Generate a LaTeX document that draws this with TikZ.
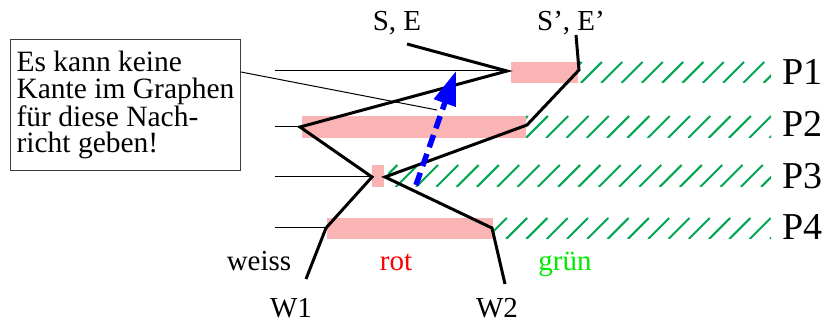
\documentclass[tikz,border=0pt]{standalone}
\usepackage{fontspec}
\setmainfont{Liberation Serif}
\usetikzlibrary{arrows.meta}
\definecolor{pinkbar}{RGB}{250,180,180}
\definecolor{hatchgreen}{RGB}{0,166,81}
\definecolor{labelgreen}{RGB}{0,235,0}
\definecolor{boxgray}{RGB}{60,60,60}
\begin{document}
\begin{tikzpicture}[x=1pt,y=-1pt,
  lbl/.style={anchor=base,inner sep=0pt,font=\fontsize{29}{30}\selectfont},
  plbl/.style={anchor=base west,inner sep=0pt,font=\fontsize{38}{40}\selectfont},
  trajline/.style={line width=3pt},
  thinline/.style={line width=1pt},
  hatchline/.style={hatchgreen,line width=2pt},
  bar/.style={fill=pinkbar,draw=none},
  msg/.style={blue,line width=5.5pt,dash pattern=on 13pt off 7pt,-{Triangle[length=34pt,width=22pt]}},
  callout/.style={draw=boxgray,line width=1pt,anchor=north west,minimum width=230pt,minimum height=131pt,inner sep=0pt,align=left,font=\fontsize{29.5}{26.3}\selectfont}
]
\useasboundingbox (0,0) rectangle (825,323);

% pink bars
\fill[bar] (511,62) rectangle (578,83);
\fill[bar] (302,116) rectangle (526,138);
\fill[bar] (372,165) rectangle (384,187);
\fill[bar] (327,218) rectangle (493,239);

% green hatching
\foreach \yt/\yb/\xl in {62/83/578, 116/138/526, 165/187/388, 218/239/493} {
  \begin{scope}
    \clip (\xl,\yt) rectangle (771,\yb);
    \foreach \c in {400,420.3,...,1080}
      \draw[hatchline] (\c-\yb,\yb) -- (\c-\yt,\yt);
  \end{scope}
}

% trajectory vertices
\coordinate (a0) at (407,44);
\coordinate (a1) at (507,71);
\coordinate (a2) at (300,127);
\coordinate (a3) at (372,177);
\coordinate (a4) at (326,228);
\coordinate (a5) at (306,279);
\coordinate (b0) at (576,35);
\coordinate (b1) at (579,70);
\coordinate (b2) at (527,125);
\coordinate (b3) at (385,177);
\coordinate (b4) at (492,228);
\coordinate (b5) at (505,284);

% thin process lines
\coordinate (l1) at (275,71);
\coordinate (l2) at (275,127);
\coordinate (l3) at (275,177);
\coordinate (l4) at (275,228);
\draw[thinline] (l1) -- (a1);
\draw[thinline] (l2) -- (a2);
\draw[thinline] (l3) -- (a3);
\draw[thinline] (l4) -- (a4);

% callout box
\node[callout] (box) at (10,39) {Es kann keine\\Kante im Graphen\\für diese Nach-\\richt geben!};
\coordinate (ct) at (437,110);
\draw[thinline] ([yshift=-33pt]box.north east) -- (ct);

% trajectories
\draw[trajline] (a0) -- (a1) -- (a2) -- (a3) -- (a4) -- (a5);
\draw[trajline] (b0) -- (b1) -- (b2) -- (b3) -- (b4) -- (b5);

% blue message arrow
\coordinate (mt) at (416,185);
\coordinate (mh) at (456,71);
\draw[msg] (mt) -- (mh);

% labels
\node[lbl] (se) at (397,31) {S, E};
\node[lbl] (sep) at (571,31) {S’, E’};
\node[plbl] (p1) at (782,85) {P1};
\node[plbl] (p2) at (782,137) {P2};
\node[plbl] (p3) at (782,189) {P3};
\node[plbl] (p4) at (782,240) {P4};
\node[lbl] (weiss) at (259,271) {weiss};
\node[lbl,text=red] (rot) at (396,271) {rot};
\node[lbl,text=labelgreen] (gruen) at (565,271) {grün};
\node[lbl] (w1) at (291,317) {W1};
\node[lbl] (w2) at (497,317) {W2};
\end{tikzpicture}
\end{document}
